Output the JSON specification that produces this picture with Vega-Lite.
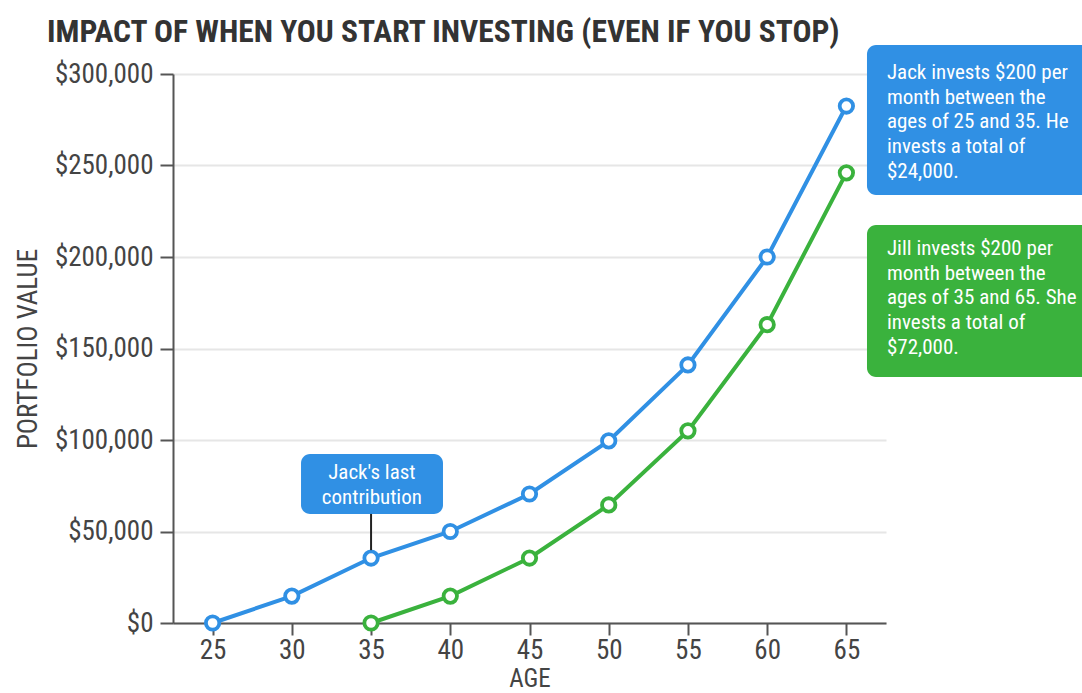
{
  "$schema": "https://vega.github.io/schema/vega-lite/v6.json",
  "width": 713,
  "height": 549,
  "autosize": {"type": "none"},
  "padding": {"left": 173, "top": 74, "right": 196, "bottom": 70},
  "background": "white",
  "config": {
    "view": {"stroke": null},
    "font": "Roboto Condensed, Liberation Sans Narrow, DejaVu Sans Condensed, Roboto, sans-serif"
  },
  "title": {
    "text": "IMPACT OF WHEN YOU START INVESTING (EVEN IF YOU STOP)",
    "anchor": "start",
    "frame": "group",
    "dx": -126,
    "offset": -3,
    "fontSize": 31.5,
    "fontWeight": "bold",
    "color": "#333333",
    "font": "Roboto Condensed, Liberation Sans Narrow, DejaVu Sans Condensed, Roboto, sans-serif"
  },
  "datasets": {
    "series": [
      {"age": 25, "value": 0, "person": "Jack"},
      {"age": 30, "value": 14700, "person": "Jack"},
      {"age": 35, "value": 35500, "person": "Jack"},
      {"age": 40, "value": 50000, "person": "Jack"},
      {"age": 45, "value": 70500, "person": "Jack"},
      {"age": 50, "value": 99500, "person": "Jack"},
      {"age": 55, "value": 141000, "person": "Jack"},
      {"age": 60, "value": 200000, "person": "Jack"},
      {"age": 65, "value": 282500, "person": "Jack"},
      {"age": 35, "value": 0, "person": "Jill"},
      {"age": 40, "value": 14700, "person": "Jill"},
      {"age": 45, "value": 35500, "person": "Jill"},
      {"age": 50, "value": 64500, "person": "Jill"},
      {"age": 55, "value": 105000, "person": "Jill"},
      {"age": 60, "value": 163000, "person": "Jill"},
      {"age": 65, "value": 246000, "person": "Jill"}
    ],
    "boxes": [
      {"x1": 66.3, "x2": 80.5, "y1": 315800, "y2": 233900, "person": "Jack"},
      {"x1": 66.3, "x2": 80.5, "y1": 217500, "y2": 134400, "person": "Jill"},
      {"x1": 30.58, "x2": 39.54, "y1": 92300, "y2": 59600, "person": "Jack"}
    ],
    "notes": [
      {"x": 67.56, "y": 300500, "label": "Jack invests $200 per\nmonth between the\nages of 25 and 35. He\ninvests a total of\n$24,000."},
      {"x": 67.56, "y": 204400, "label": "Jill invests $200 per\nmonth between the\nages of 35 and 65. She\ninvests a total of\n$72,000."}
    ],
    "small": [
      {"x": 35.05, "y": 82000, "label": "Jack's last\ncontribution"}
    ],
    "connector": [
      {"x": 35, "y1": 59600, "y2": 39800}
    ]
  },
  "layer": [
    {
      "data": {"name": "series"},
      "mark": {"type": "line", "strokeWidth": 4},
      "encoding": {
        "x": {
          "field": "age", "type": "quantitative",
          "scale": {"domain": [22.5, 67.5], "nice": false, "zero": false},
          "axis": {
            "values": [25, 30, 35, 40, 45, 50, 55, 60, 65],
            "title": "AGE",
            "titleFontSize": 25,
            "titleFontWeight": "normal",
            "titleColor": "#444444",
            "titlePadding": 3,
            "labelFontSize": 27,
            "labelColor": "#444444",
            "labelPadding": 2,
            "tickSize": 12,
            "tickWidth": 2,
            "tickColor": "#555555",
            "domainColor": "#555555",
            "domainWidth": 2,
            "grid": false
          }
        },
        "y": {
          "field": "value", "type": "quantitative",
          "scale": {"domain": [0, 300000], "nice": false},
          "axis": {
            "values": [0, 50000, 100000, 150000, 200000, 250000, 300000],
            "format": "$,.0f",
            "title": "PORTFOLIO VALUE",
            "titleFontSize": 27,
            "titleFontWeight": "normal",
            "titleColor": "#444444",
            "titlePadding": 12,
            "labelFontSize": 27,
            "labelColor": "#444444",
            "labelPadding": 7,
            "tickSize": 13,
            "tickWidth": 2,
            "tickColor": "#555555",
            "domainColor": "#555555",
            "domainWidth": 2,
            "grid": true,
            "gridColor": "#e6e6e6",
            "gridWidth": 2
          }
        },
        "color": {
          "field": "person", "type": "nominal",
          "scale": {"domain": ["Jack", "Jill"], "range": ["#3090e4", "#3ab23d"]},
          "legend": null
        },
        "detail": {"field": "person"}
      }
    },
    {
      "data": {"name": "series"},
      "mark": {"type": "point", "filled": false, "fill": "white", "fillOpacity": 1, "opacity": 1, "size": 180, "strokeWidth": 3.8},
      "encoding": {
        "x": {"field": "age", "type": "quantitative"},
        "y": {"field": "value", "type": "quantitative"},
        "color": {"field": "person", "type": "nominal", "legend": null}
      }
    },
    {
      "data": {"name": "boxes"},
      "mark": {"type": "rect", "cornerRadius": 9, "opacity": 1},
      "encoding": {
        "x": {"field": "x1", "type": "quantitative"},
        "x2": {"field": "x2"},
        "y": {"field": "y1", "type": "quantitative"},
        "y2": {"field": "y2"},
        "color": {"field": "person", "type": "nominal", "legend": null}
      }
    },
    {
      "data": {"name": "connector"},
      "mark": {"type": "rule", "color": "#222222", "strokeWidth": 2},
      "encoding": {
        "x": {"field": "x", "type": "quantitative"},
        "y": {"field": "y1", "type": "quantitative"},
        "y2": {"field": "y2"}
      }
    },
    {
      "data": {"name": "notes"},
      "mark": {"type": "text", "align": "left", "baseline": "middle", "fontSize": 21, "color": "white", "lineBreak": "\n", "lineHeight": 24.7},
      "encoding": {
        "x": {"field": "x", "type": "quantitative"},
        "y": {"field": "y", "type": "quantitative"},
        "text": {"field": "label"}
      }
    },
    {
      "data": {"name": "small"},
      "mark": {"type": "text", "align": "center", "baseline": "middle", "fontSize": 21, "color": "white", "lineBreak": "\n", "lineHeight": 25},
      "encoding": {
        "x": {"field": "x", "type": "quantitative"},
        "y": {"field": "y", "type": "quantitative"},
        "text": {"field": "label"}
      }
    }
  ]
}
